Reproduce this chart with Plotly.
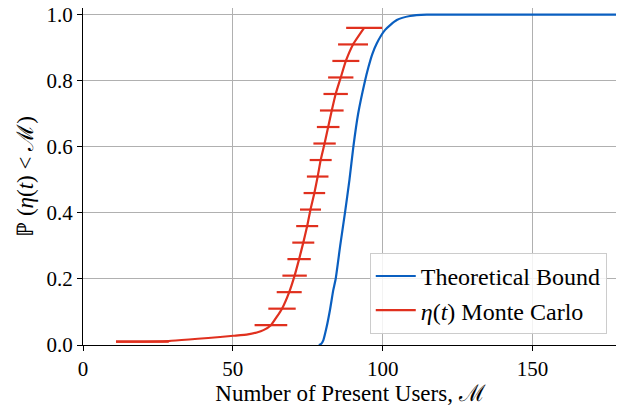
import plotly.graph_objects as go

# Theoretical bound
bound_x = [78.7, 79.5, 80.2, 81.3, 82.4, 83.5, 84.3, 85.8, 87.4, 88.9, 90.2, 91.8, 94.1, 95.2,
           96.5, 98.0, 100.8, 104.7, 109.1, 114.7, 120.0, 178.5]
bound_y = [0.0, 0.004, 0.015, 0.055, 0.106, 0.166, 0.20, 0.30, 0.40, 0.50, 0.60, 0.70, 0.80, 0.84,
           0.88, 0.913, 0.954, 0.984, 0.996, 1.0, 1.0, 1.0]

# Monte Carlo curve
mc_line_x = [11.0, 28.5, 50.2, 55.0, 58.0, 60.2, 62.7, 66.4, 68.8, 70.6, 72.1, 73.5, 74.8, 75.9, 77.2,
             78.3, 79.3, 80.6, 81.8, 83.0, 84.3, 86.0, 87.7, 90.1, 93.8]
mc_line_y = [0.010, 0.012, 0.028, 0.032, 0.038, 0.045, 0.06, 0.11, 0.16, 0.21, 0.26, 0.31, 0.36, 0.41, 0.46,
             0.51, 0.56, 0.61, 0.66, 0.71, 0.76, 0.81, 0.86, 0.91, 0.96]

# Error bars: centres, probability levels, half-widths
err_x = [19.8, 62.7, 66.4, 68.8, 70.6, 72.1, 73.5, 74.8, 75.9, 77.2, 78.3, 79.3, 80.6, 81.8, 83.0,
         84.3, 86.0, 87.7, 90.1, 93.8]
err_y = [0.01, 0.06, 0.11, 0.16, 0.21, 0.26, 0.31, 0.36, 0.41, 0.46, 0.51, 0.56, 0.61, 0.66, 0.71,
         0.76, 0.81, 0.86, 0.91, 0.96]
err_hw = [8.8, 5.45, 4.57, 4.17, 4.07, 3.9, 3.67, 3.67, 3.5, 3.6, 3.6, 3.67, 3.73, 3.77, 3.95,
          4.07, 4.22, 4.5, 5.0, 6.0]

x_ticks = [0, 50, 100, 150]
y_ticks = [0.0, 0.2, 0.4, 0.6, 0.8, 1.0]
y_tick_text = ["0.0", "0.2", "0.4", "0.6", "0.8", "1.0"]

BLUE = "#0a5fc0"
RED = "#e0301e"
FONT = "Liberation Serif"

fig = go.Figure()
fig.add_trace(go.Scatter(x=bound_x, y=bound_y, mode="lines", name="Theoretical Bound",
                         line=dict(color=BLUE, width=2.2, shape="spline", smoothing=0.6)))
fig.add_trace(go.Scatter(x=mc_line_x, y=mc_line_y, mode="lines", name="<i>η</i>(<i>t</i>) Monte Carlo",
                         line=dict(color=RED, width=2.2, shape="spline", smoothing=0.4)))
fig.add_trace(go.Scatter(x=err_x, y=err_y, mode="markers", showlegend=False,
                         marker=dict(size=2, opacity=0, color=RED),
                         error_x=dict(type="data", array=err_hw, symmetric=True,
                                      color=RED, thickness=2.2, width=0)))

axis_common = dict(showgrid=True, gridcolor="#b0b0b0", gridwidth=1, zeroline=False,
                   showline=True, linecolor="black", linewidth=1.2, automargin=False,
                   ticks="outside", ticklen=5, tickwidth=1.2, tickcolor="black",
                   ticklabeloverflow="allow",
                   tickfont=dict(family=FONT, size=21, color="black"))

fig.update_xaxes(range=[0, 178.5], tickvals=x_ticks, ticktext=[str(v) for v in x_ticks],
                 title=dict(text="Number of Present Users, ℳ", font=dict(family=FONT, size=23, color="black"),
                            standoff=0),
                 mirror=False, **axis_common)
fig.update_yaxes(range=[0, 1.0203], tickvals=y_ticks, ticktext=y_tick_text,
                 title=dict(text="ℙ (<i>η</i>(<i>t</i>) < ℳ)", font=dict(family=FONT, size=23, color="black"),
                            standoff=6),
                 mirror=True, **axis_common)

fig.update_layout(
    width=624, height=410,
    margin=dict(l=75, r=14, t=0, b=73, autoexpand=False),
    plot_bgcolor="white", paper_bgcolor="white",
    font=dict(family=FONT, size=21, color="black"),
    legend=dict(x=0.979, y=0.033, xanchor="right", yanchor="bottom",
                bgcolor="rgba(255,255,255,0.85)", bordercolor="#cccccc", borderwidth=1,
                itemwidth=40,
                font=dict(family=FONT, size=24, color="black")),
    showlegend=True,
)

fig.write_html("out.html")
